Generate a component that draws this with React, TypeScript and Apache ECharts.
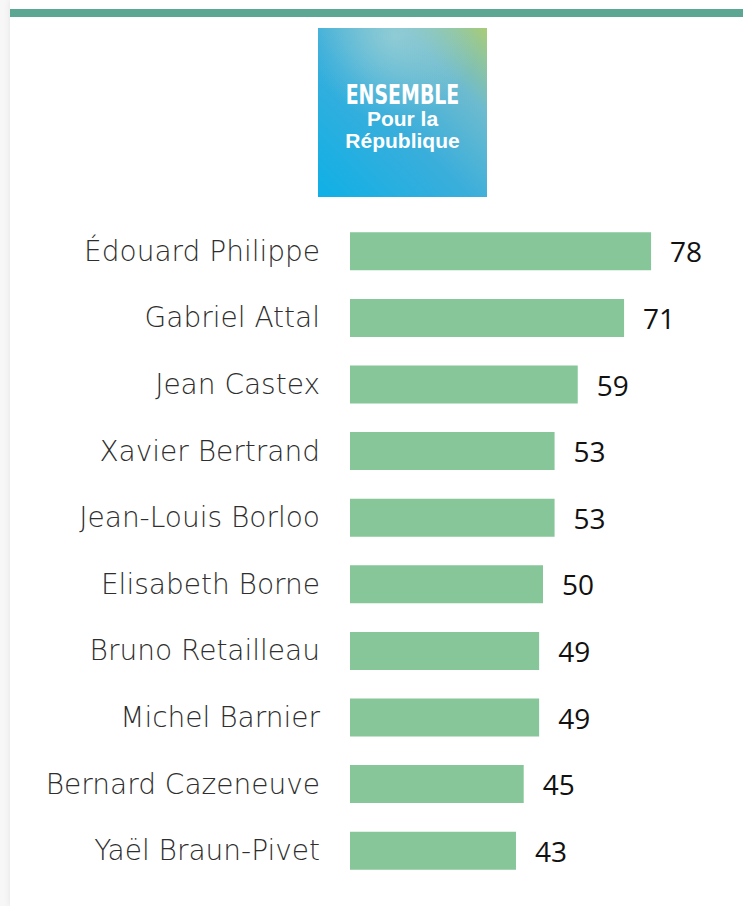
import React, { useEffect, useRef } from "react";
import * as echarts from "echarts";

const names = [
  "Édouard Philippe",
  "Gabriel Attal",
  "Jean Castex",
  "Xavier Bertrand",
  "Jean-Louis Borloo",
  "Elisabeth Borne",
  "Bruno Retailleau",
  "Michel Barnier",
  "Bernard Cazeneuve",
  "Yaël Braun-Pivet",
];
const scores = [78, 71, 59, 53, 53, 50, 49, 49, 45, 43];
const logoLines = ["ENSEMBLE", "Pour la", "République"];

export default function App() {
  const ref = useRef<HTMLDivElement>(null);
  useEffect(() => {
    if (!ref.current) return;
    const chart = echarts.init(ref.current, null, { renderer: "svg" });
    chart.setOption({
      animation: false,
      backgroundColor: "#f7f7f7",
      graphic: [
        {
          type: "rect",
          shape: { x: 10, y: 0, width: 740, height: 906 },
          style: { fill: "#ffffff", shadowBlur: 6, shadowColor: "rgba(0,0,0,0.08)" },
          z: -10,
        },
        {
          type: "rect",
          shape: { x: 10, y: 9, width: 740, height: 8 },
          style: { fill: "#5ba793" },
        },
        {
          type: "group",
          x: 318,
          y: 28,
          children: [
            {
              type: "rect",
              shape: { x: 0, y: 0, width: 169, height: 169 },
              style: {
                fill: new echarts.graphic.LinearGradient(0, 1, 1, 0, [
                  { offset: 0, color: "#0fb0e6" },
                  { offset: 0.45, color: "#3aaedb" },
                  { offset: 0.75, color: "#6dbbcf" },
                  { offset: 1, color: "#a9cc78" },
                ]),
              },
            },
            {
              type: "rect",
              shape: { x: 0, y: 0, width: 169, height: 169 },
              style: {
                fill: new echarts.graphic.RadialGradient(0.45, 0.05, 0.5, [
                  { offset: 0, color: "rgba(170,215,215,0.6)" },
                  { offset: 1, color: "rgba(170,215,215,0)" },
                ]),
              },
            },
            {
              type: "text",
              style: {
                text: logoLines[0],
                x: 84.5,
                y: 67,
                align: "center",
                verticalAlign: "middle",
                fill: "#ffffff",
                font: "bold 26px 'DejaVu Sans Condensed', 'Liberation Sans Narrow', sans-serif",
              },
              scaleX: 0.81,
              originX: 84.5,
            },
            {
              type: "text",
              style: {
                text: logoLines[1],
                x: 84.5,
                y: 90,
                align: "center",
                verticalAlign: "middle",
                fill: "#ffffff",
                font: "bold 21px 'Liberation Sans', Arial, sans-serif",
              },
            },
            {
              type: "text",
              style: {
                text: logoLines[2],
                x: 84.5,
                y: 112,
                align: "center",
                verticalAlign: "middle",
                fill: "#ffffff",
                font: "bold 21px 'Liberation Sans', Arial, sans-serif",
              },
            },
          ],
        },
      ],
      grid: { left: 350, right: 7, top: 218, height: 666, containLabel: false },
      xAxis: { type: "value", min: 0, max: 100, show: false },
      yAxis: {
        type: "category",
        inverse: true,
        data: names,
        axisLine: { show: false },
        axisTick: { show: false },
        axisLabel: {
          margin: 30,
          fontSize: 28,
          color: "#2e2e2e",
          fontFamily: "'DejaVu Sans', sans-serif",
          fontWeight: 200,
        },
      },
      series: [
        {
          type: "bar",
          data: scores,
          barWidth: 38,
          itemStyle: { color: "#86c699" },
          label: {
            show: true,
            position: "right",
            distance: 19,
            fontSize: 28,
            color: "#111111",
            fontFamily: "'Open Sans', sans-serif",
          },
        },
      ],
    });
    return () => chart.dispose();
  }, []);
  return (
    <div
      ref={ref}
      style={{ position: "absolute", left: 0, top: 0, width: 743, height: 906 }}
    />
  );
}
